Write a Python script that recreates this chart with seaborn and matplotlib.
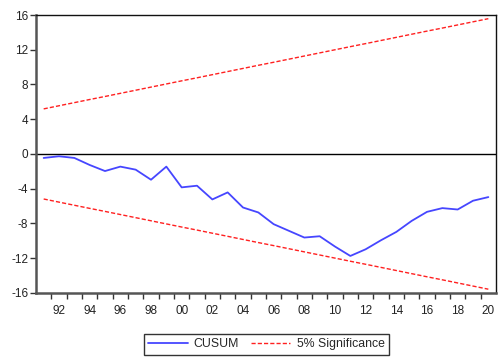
import matplotlib
matplotlib.use("Agg")
import matplotlib.pyplot as plt
from matplotlib.ticker import FixedLocator, FixedFormatter
import seaborn as sns
import pandas as pd

years = list(range(1991, 2021))
cusum = [-0.46, -0.27, -0.46, -1.27, -1.97, -1.46, -1.81, -2.97, -1.46, -3.85,
         -3.66, -5.24, -4.43, -6.17, -6.74, -8.09, -8.86, -9.63, -9.48, -10.67,
         -11.75, -10.98, -9.94, -8.98, -7.71, -6.67, -6.24, -6.40, -5.39, -4.97]
upper = [5.19, 5.55, 5.91, 6.27, 6.62, 6.98, 7.34, 7.70, 8.06, 8.42,
         8.77, 9.13, 9.49, 9.85, 10.21, 10.56, 10.92, 11.28, 11.64, 12.00,
         12.36, 12.71, 13.07, 13.43, 13.79, 14.15, 14.50, 14.86, 15.22, 15.58]
lower = [-v for v in upper]
y_ticks = [-16, -12, -8, -4, 0, 4, 8, 12, 16]
x_label_years = list(range(1992, 2021, 2))
x_labels = [f"{y % 100:02d}" for y in x_label_years]

df = pd.DataFrame({"year": years, "cusum": cusum, "upper": upper, "lower": lower})

sns.set_style("white")
plt.rcParams["font.family"] = ["Liberation Sans", "DejaVu Sans"]

fig = plt.figure(figsize=(4.98, 3.58), dpi=100)
ax = fig.add_axes([0.0723, 0.182, 0.9237, 0.776])

blue = "#4646ff"
red = "#ff2020"
sns.lineplot(data=df, x="year", y="cusum", ax=ax, color=blue, lw=1.3, label="CUSUM")
sns.lineplot(data=df, x="year", y="upper", ax=ax, color=red, lw=1.0,
             dashes=False, label="5% Significance")
sns.lineplot(data=df, x="year", y="lower", ax=ax, color=red, lw=1.0, label="_nolegend_")
for line in ax.lines[1:]:
    line.set_linestyle((0, (3, 1.5)))

ax.axhline(0, color="black", lw=1.0, zorder=1)

ax.set_xlim(1990.5, 2020.5)
ax.set_ylim(-16, 16)
ax.set_xlabel("")
ax.set_ylabel("")

ax.yaxis.set_major_locator(FixedLocator(y_ticks))
ax.set_yticklabels([str(t) for t in y_ticks], fontsize=8.5, color="#222222")
ax.tick_params(axis="y", which="major", direction="out", length=4, width=1,
               color="#333333", pad=1.5, left=True)

ax.xaxis.set_major_locator(FixedLocator(x_label_years))
ax.xaxis.set_major_formatter(FixedFormatter(x_labels))
ax.xaxis.set_minor_locator(FixedLocator([y + 0.5 for y in range(1991, 2020)]))
ax.tick_params(axis="x", which="major", length=0, labelsize=8.5, pad=9,
               labelcolor="#222222", bottom=True)
ax.tick_params(axis="x", which="minor", direction="out", length=4, width=1,
               color="#333333", bottom=True)

for side in ("left", "bottom"):
    ax.spines[side].set_color("#555555")
    ax.spines[side].set_linewidth(1.8)
for side in ("top", "right"):
    ax.spines[side].set_color("#111111")
    ax.spines[side].set_linewidth(1.0)

handles, labels = ax.get_legend_handles_labels()
ax.get_legend().remove()
leg = fig.legend(handles, labels, loc="center", bbox_to_anchor=(0.535, 0.038),
                 ncol=2, frameon=True, fancybox=False, fontsize=8.8,
                 handlelength=3.2, columnspacing=1.0, handletextpad=0.5,
                 borderpad=0.35)
leg.get_frame().set_edgecolor("black")
leg.get_frame().set_linewidth(1.0)

fig.savefig("out.png", dpi=100)
